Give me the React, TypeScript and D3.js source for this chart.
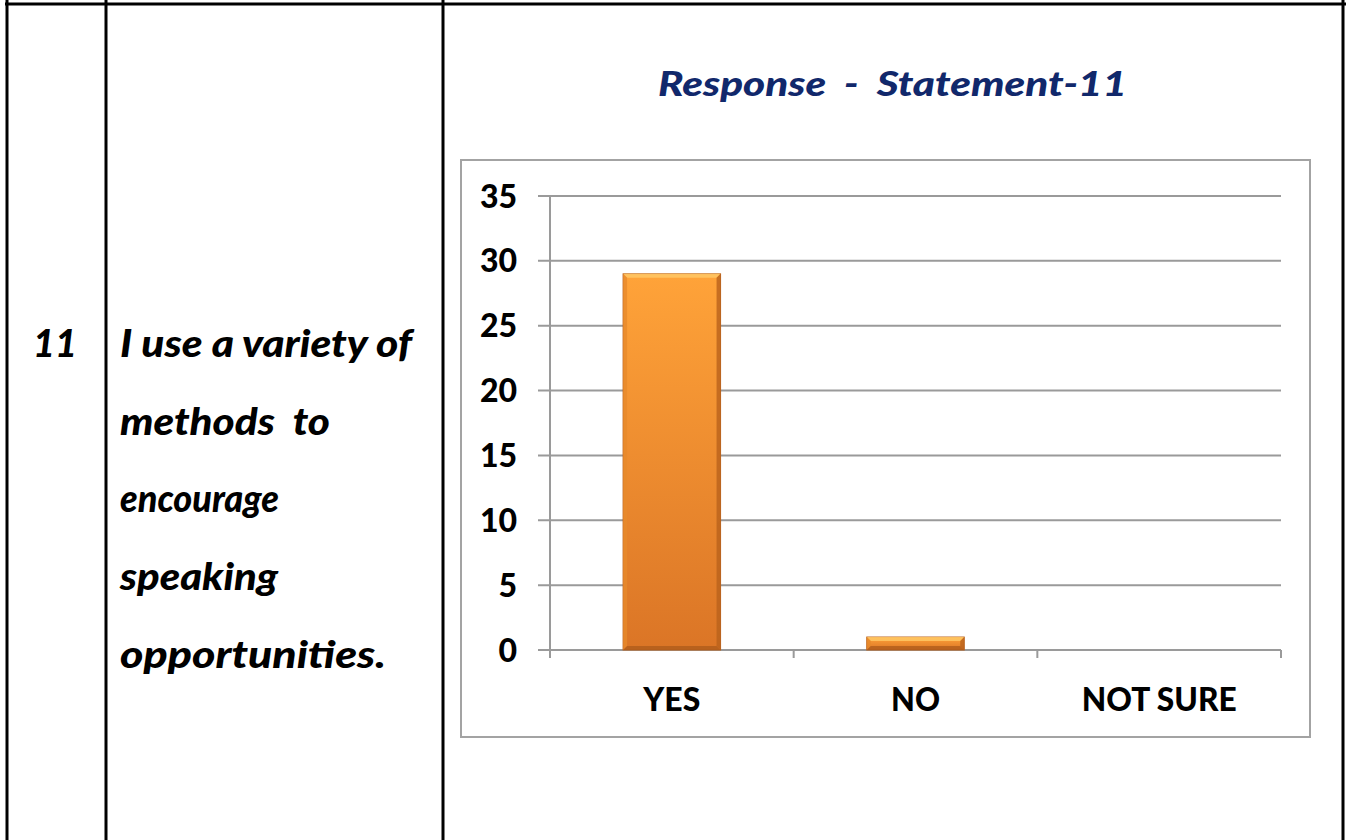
import React from "react";
import * as d3 from "d3";

const categories = ["YES", "NO", "NOT SURE"];
const values = [29, 1, 0];
const yTicks = [0, 5, 10, 15, 20, 25, 30, 35];
const titleText = "Response  -  Statement-11";
const rowNumber = "11";
const statementLines = ["I use a variety of", "methods  to", "encourage", "speaking", "opportunities."];
const statementWidths = [292, 210, 159, 158, 266];
const categoryLabelWidths = [57, 49, 155];

const W = 1346;
const H = 840;
const FONT = "Lato, 'Open Sans', sans-serif";

export default function App() {
  const x = d3.scaleBand<string>().domain(categories).range([550, 1281]).paddingInner(0.6).paddingOuter(0.3);
  const y = d3.scaleLinear().domain([0, 35]).range([650, 196]);
  const step = x.step();
  const boundaries = d3.range(categories.length + 1).map((i) => 550 + i * step);
  const bev = 4;

  return (
    <svg
      width={W}
      height={H}
      style={{ position: "absolute", left: 0, top: 0, background: "#fff" }}
      fontFamily={FONT}
    >
      <defs>
        <linearGradient id="barGrad" x1="0" y1="0" x2="0" y2="1">
          <stop offset="0%" stopColor="#ffa339" />
          <stop offset="100%" stopColor="#db7526" />
        </linearGradient>
      </defs>
      <rect x={0} y={0} width={W} height={H} fill="#fff" />

      {/* table lines */}
      <line x1={5} x2={W} y1={4} y2={4} stroke="#000" strokeWidth={3} />
      {[7, 106, 443, 1343].map((lx) => (
        <line key={lx} x1={lx} x2={lx} y1={0} y2={H} stroke="#000" strokeWidth={3} />
      ))}

      {/* left text */}
      <text x={33} y={357} fontSize={38} fontWeight={900} fontStyle="italic" fill="#000" textLength={44} lengthAdjust="spacingAndGlyphs">
        {rowNumber}
      </text>
      {statementLines.map((s, i) => (
        <text
          key={i}
          x={120}
          y={357 + i * 77.7}
          fontSize={38}
          fontWeight={900}
          fontStyle="italic"
          fill="#000"
          textLength={statementWidths[i]}
          lengthAdjust="spacingAndGlyphs"
          style={{ whiteSpace: "pre" }}
        >
          {s}
        </text>
      ))}

      {/* title */}
      <text
        x={658}
        y={96}
        fontSize={35}
        fontWeight={900}
        fontStyle="italic"
        fill="#11286b"
        textLength={469}
        lengthAdjust="spacingAndGlyphs"
        style={{ whiteSpace: "pre" }}
      >
        {titleText}
      </text>

      {/* chart box */}
      <rect x={461} y={160} width={849} height={577} fill="none" stroke="#a3a3a3" strokeWidth={2} />

      {/* gridlines */}
      {yTicks.map((t) => (
        <g key={t}>
          <line x1={538} x2={1281} y1={y(t)} y2={y(t)} stroke="#9a9a9a" strokeWidth={2} />
          <text x={517} y={y(t)} dy="0.36em" textAnchor="end" fontSize={32} fontWeight={900} fill="#000">
            {t}
          </text>
        </g>
      ))}
      {/* y axis */}
      <line x1={550} x2={550} y1={y(35)} y2={y(0)} stroke="#9a9a9a" strokeWidth={2} />
      {/* x ticks */}
      {boundaries.map((bx, i) => (
        <line key={i} x1={bx} x2={bx} y1={y(0)} y2={y(0) + 8} stroke="#9a9a9a" strokeWidth={2} />
      ))}

      {/* bars */}
      {categories.map((c, i) => {
        const v = values[i];
        if (v <= 0) return null;
        const bx = x(c)!;
        const bw = x.bandwidth();
        const by = y(v);
        const bh = y(0) - by;
        const b = Math.min(bev, bh / 3);
        return (
          <g key={c}>
            <rect x={bx} y={by} width={bw} height={bh} fill="url(#barGrad)" stroke="#b9621f" strokeWidth={1} />
            <polygon
              points={`${bx},${by} ${bx + bw},${by} ${bx + bw - b},${by + b} ${bx + b},${by + b}`}
              fill="#ffc865"
              opacity={0.85}
            />
            <polygon
              points={`${bx},${by} ${bx + b},${by + b} ${bx + b},${by + bh - b} ${bx},${by + bh}`}
              fill="#e78a2c"
              opacity={0.8}
            />
            <polygon
              points={`${bx + bw},${by} ${bx + bw - b},${by + b} ${bx + bw - b},${by + bh - b} ${bx + bw},${by + bh}`}
              fill="#b9611c"
              opacity={0.8}
            />
            <polygon
              points={`${bx},${by + bh} ${bx + b},${by + bh - b} ${bx + bw - b},${by + bh - b} ${bx + bw},${by + bh}`}
              fill="#a9581a"
              opacity={0.7}
            />
          </g>
        );
      })}

      {/* x labels */}
      {categories.map((c, i) => (
        <text
          key={c}
          x={x(c)! + x.bandwidth() / 2}
          y={711}
          textAnchor="middle"
          fontSize={32}
          fontWeight={900}
          fill="#000"
          textLength={categoryLabelWidths[i]}
          lengthAdjust="spacingAndGlyphs"
        >
          {c}
        </text>
      ))}
    </svg>
  );
}
